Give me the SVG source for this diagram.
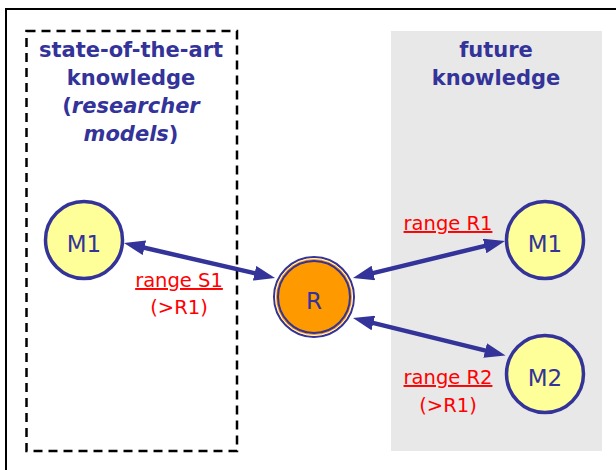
<svg xmlns="http://www.w3.org/2000/svg" width="616" height="470" viewBox="0 0 616 470">
<defs>
<style>
.title{font-family:"DejaVu Sans","Liberation Sans",sans-serif;font-size:21px;font-weight:bold;fill:#333399;text-anchor:middle}
.node{fill:#FFFF99;stroke:#333399;stroke-width:3.5}
.nlabel{font-family:"DejaVu Sans","Liberation Sans",sans-serif;font-size:23px;fill:#333399;text-anchor:middle}
.red{font-family:"DejaVu Sans","Liberation Sans",sans-serif;font-size:19.5px;fill:#FF0000;text-anchor:middle}
.conn{stroke:#333399;stroke-width:4.5;fill:none;marker-start:url(#ah);marker-end:url(#ah)}
</style>
<marker id="ah" viewBox="0 0 21 15" refX="11" refY="7.5" markerWidth="21" markerHeight="15" markerUnits="userSpaceOnUse" orient="auto-start-reverse">
<path d="M0,0 L21,7.5 L0,15 z" fill="#333399"/>
</marker>
</defs>
<rect x="0" y="0" width="616" height="470" fill="#FFFFFF"/>
<path d="M6,470 V9 H616" fill="none" stroke="#000" stroke-width="2"/>
<g id="soa-region">
<rect x="26.5" y="31" width="210.5" height="420" fill="none" stroke="#000" stroke-width="2.5" stroke-dasharray="9,6"/>
<text class="title" x="131" y="57">state-of-the-art</text>
<text class="title" x="131" y="85">knowledge</text>
<text class="title" x="131" y="113">(<tspan font-style="italic">researcher</tspan></text>
<text class="title" x="131" y="141"><tspan font-style="italic">models</tspan>)</text>
</g>
<g id="future-region">
<rect x="391" y="31" width="211" height="420" fill="#E8E8E8"/>
<text class="title" x="496" y="57">future</text>
<text class="title" x="496" y="85">knowledge</text>
</g>
<g id="connectors">
<line class="conn" x1="133.7" y1="245.3" x2="265.3" y2="275.7"/>
<line class="conn" x1="362.7" y1="275.6" x2="495.3" y2="243.4"/>
<line class="conn" x1="362.7" y1="320.4" x2="495.8" y2="353.1"/>
</g>
<g id="labels">
<text class="red" x="179" y="287" text-decoration="underline">range S1</text>
<text class="red" x="179" y="314">(&gt;R1)</text>
<text class="red" x="448" y="230" text-decoration="underline">range R1</text>
<text class="red" x="448" y="384" text-decoration="underline">range R2</text>
<text class="red" x="448" y="412">(&gt;R1)</text>
</g>
<g id="node-M1-left">
<circle class="node" cx="84" cy="240" r="38.5"/>
<text class="nlabel" x="84" y="252">M1</text>
</g>
<g id="node-R">
<circle cx="314" cy="297" r="40" fill="#FF9900" stroke="#333399" stroke-width="2"/>
<circle cx="314" cy="297" r="38.5" fill="none" stroke="#FFFFFF" stroke-width="1"/>
<circle cx="314" cy="297" r="36" fill="none" stroke="#333399" stroke-width="2"/>
<text class="nlabel" x="314" y="309">R</text>
</g>
<g id="node-M1-right">
<circle class="node" cx="545" cy="240" r="38.5"/>
<text class="nlabel" x="545" y="252">M1</text>
</g>
<g id="node-M2">
<circle class="node" cx="545" cy="374" r="38.5"/>
<text class="nlabel" x="545" y="386">M2</text>
</g>
</svg>
